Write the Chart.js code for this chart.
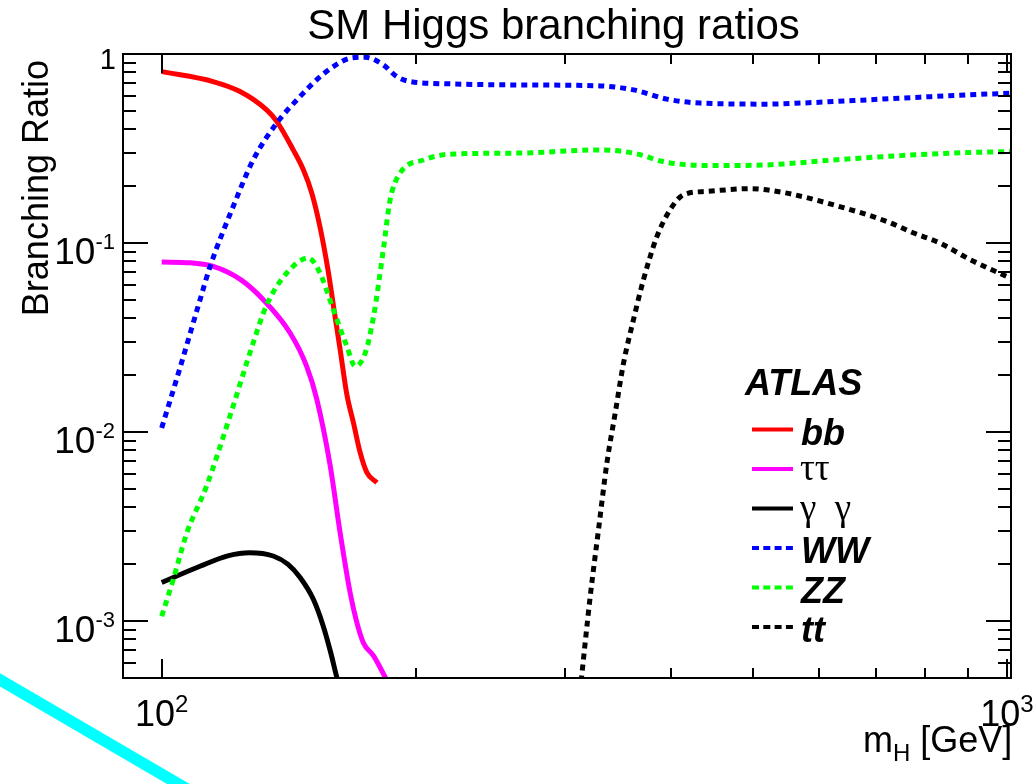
<!DOCTYPE html>
<html>
<head>
<meta charset="utf-8">
<title>SM Higgs branching ratios</title>
<script src="https://cdn.jsdelivr.net/npm/chart.js@4.4.1/dist/chart.umd.min.js"></script>
<style>
  html, body { margin: 0; padding: 0; background: #ffffff; }
  #wrap { position: relative; width: 1033px; height: 784px; overflow: hidden; }
  canvas { display: block; }
</style>
</head>
<body>
<div id="wrap"><canvas id="chart" width="1033" height="784"></canvas></div>
<script>
// Higgs mass points (GeV) and branching ratios, one pair of arrays per decay channel
const bbMass   = [100, 115, 123.8, 133.1, 136.8, 143.1, 147.1, 150.5, 153.9, 157.3, 159.9, 162.6, 165.6, 168.6, 171.7, 174.9, 179.7];
const bbRatio  = [0.807, 0.715, 0.633, 0.506, 0.44, 0.311, 0.244, 0.184, 0.122, 0.0722, 0.0445, 0.0273, 0.0158, 0.0112, 0.0078, 0.0061, 0.0054];

const tautauMass  = [100, 108, 115.1, 124, 131.9, 141.9, 148.4, 152.6, 158.3, 162.6, 167.1, 170, 173.2, 178.1, 184, 187];
const tautauRatio = [0.0793, 0.0786, 0.0752, 0.064, 0.0501, 0.0334, 0.0223, 0.0149, 0.00659, 0.00293, 0.00141, 0.00100, 0.000769, 0.000654, 0.0005, 0.00043];

const gamgamMass  = [100, 111, 120, 127, 135.5, 141, 145.8, 151.2, 155.3, 158.5, 161.2, 163];
const gamgamRatio = [0.00160, 0.00195, 0.00222, 0.00230, 0.00221, 0.00200, 0.00170, 0.00130, 0.00094, 0.00068, 0.0005, 0.00042];

const wwMass  = [100, 105, 111, 114.1, 121.5, 128.3, 136.8, 145.8, 152.5, 159.6, 167.1, 174, 182.9, 189.7, 196.7, 219.4, 263, 330, 361.5, 396, 433.6, 520, 570, 683, 819, 897, 1011];
const wwRatio = [0.0105, 0.0215, 0.050, 0.0752, 0.156, 0.275, 0.431, 0.596, 0.73, 0.858, 0.95, 0.962, 0.876, 0.76, 0.715, 0.695, 0.686, 0.678, 0.646, 0.577, 0.55, 0.543, 0.55, 0.572, 0.596, 0.608, 0.62];

const zzMass  = [100, 103.2, 107.1, 113, 120.4, 128.3, 133.1, 140.6, 149.1, 153.9, 159.6, 165.6, 169.4, 174.1, 178.1, 182.9, 186.3, 191.4, 204, 219.4, 263, 330, 361.5, 396, 454, 520, 624, 748, 897, 1011];
const zzRatio = [0.00106, 0.00166, 0.00293, 0.00517, 0.0121, 0.0296, 0.047, 0.0694, 0.0833, 0.0694, 0.0444, 0.0284, 0.0223, 0.0262, 0.0409, 0.0922, 0.169, 0.234, 0.275, 0.295, 0.299, 0.311, 0.299, 0.267, 0.257, 0.259, 0.275, 0.290, 0.301, 0.305];

const ttMass  = [312.5, 321.4, 328.7, 336.3, 344, 351.9, 361.5, 371.5, 385.3, 399.5, 414.3, 441.6, 497, 544, 624, 721, 775.5, 834, 905, 1011];
const ttRatio = [0.00042, 0.00136, 0.00305, 0.00688, 0.01263, 0.0232, 0.0393, 0.064, 0.108, 0.150, 0.18, 0.1875, 0.194, 0.185, 0.159, 0.130, 0.113, 0.0997, 0.0816, 0.065];

// Axis ticks and labels
const xMajorTicks = [100, 1000];
const xMinorTicks = [200, 300, 400, 500, 600, 700, 800, 900];
const xTickLabels = [[100, '10', '2'], [1000, '10', '3']];
const yMajorTicks = [0.001, 0.01, 0.1, 1];
const yMinorTicks = [0.0006, 0.0007, 0.0008, 0.0009,
                     0.002, 0.003, 0.004, 0.005, 0.006, 0.007, 0.008, 0.009,
                     0.02, 0.03, 0.04, 0.05, 0.06, 0.07, 0.08, 0.09,
                     0.2, 0.3, 0.4, 0.5, 0.6, 0.7, 0.8, 0.9];
const yTickLabels = [[0.001, '10', '-3'], [0.01, '10', '-2'], [0.1, '10', '-1'], [1, '1', '']];

// Legend entries: label, font kind, colour, dashed
const legendLabels = ['bb', '\u03C4\u03C4', '\u03B3 \u03B3', 'WW', 'ZZ', 'tt'];
const legendSerif  = [false, true, true, false, false, false];
const legendColors = ['#ff0000', '#ff00ff', '#000000', '#0000ff', '#00ff00', '#000000'];
const legendDashed = [false, false, false, true, true, true];

const SANS = '"Liberation Sans", Arial, Helvetica, sans-serif';
const SERIF = '"Liberation Serif", "Times New Roman", serif';

function toPoints(xs, ys) {
  return xs.map((m, i) => ({ x: m, y: ys[i] }));
}

function series(label, xs, ys, color, dashed) {
  return {
    label: label,
    data: toPoints(xs, ys),
    borderColor: color,
    backgroundColor: color,
    borderWidth: 5,
    borderDash: dashed ? [6, 5] : [],
    borderCapStyle: 'butt',
    pointRadius: 0,
    fill: false,
    cubicInterpolationMode: 'monotone',
    clip: 0
  };
}

function drawPower(ctx, base, exp, x, baseY, supY, baseFont, supFont, align) {
  ctx.font = baseFont;
  const wb = ctx.measureText(base).width;
  ctx.font = supFont;
  const we = exp ? ctx.measureText(exp).width : 0;
  const total = wb + we;
  let left = x;
  if (align === 'center') left = x - total / 2;
  else if (align === 'right') left = x - total;
  ctx.textAlign = 'left';
  ctx.textBaseline = 'alphabetic';
  ctx.font = baseFont;
  ctx.fillText(base, left, baseY);
  if (exp) {
    ctx.font = supFont;
    ctx.fillText(exp, left + wb, supY);
  }
}

// Frame, inward ticks on all four sides, tick labels, titles and the legend box
const frameAxes = {
  id: 'frameAxes',
  beforeDraw(chart) {
    const ctx = chart.ctx;
    ctx.save();
    ctx.fillStyle = '#ffffff';
    ctx.fillRect(0, 0, chart.width, chart.height);
    ctx.restore();
  },
  afterDraw(chart) {
    const { ctx, chartArea: a } = chart;
    const xs = chart.scales.x, ys = chart.scales.y;
    ctx.save();
    ctx.strokeStyle = '#000000';
    ctx.fillStyle = '#000000';
    ctx.lineWidth = 2;
    ctx.setLineDash([]);
    ctx.lineCap = 'butt';
    ctx.strokeRect(a.left, a.top, a.right - a.left, a.bottom - a.top);

    ctx.beginPath();
    const xTick = (v, len) => {
      const px = Math.round(xs.getPixelForValue(v));
      ctx.moveTo(px, a.bottom); ctx.lineTo(px, a.bottom - len);
      ctx.moveTo(px, a.top); ctx.lineTo(px, a.top + len);
    };
    xMajorTicks.forEach(v => xTick(v, 19));
    xMinorTicks.forEach(v => xTick(v, 10));
    const yTick = (v, len) => {
      const py = Math.round(ys.getPixelForValue(v));
      ctx.moveTo(a.left, py); ctx.lineTo(a.left + len, py);
      ctx.moveTo(a.right, py); ctx.lineTo(a.right - len, py);
    };
    yMajorTicks.forEach(v => yTick(v, 25));
    yMinorTicks.forEach(v => yTick(v, 13));
    ctx.stroke();

    // tick labels
    xTickLabels.forEach(([v, b, e]) => {
      const px = xs.getPixelForValue(v);
      drawPower(ctx, b, e, px, a.bottom + 48, a.bottom + 34, '36px ' + SANS, '24px ' + SANS, 'center');
    });
    yTickLabels.forEach(([v, b, e]) => {
      const py = ys.getPixelForValue(v);
      if (e) {
        drawPower(ctx, b, e, 115, py + 21, py + 6, '37px ' + SANS, '22px ' + SANS, 'right');
      } else {
        drawPower(ctx, b, e, 116, py + 15, py, '29px ' + SANS, '20px ' + SANS, 'right');
      }
    });

    // title
    ctx.font = '42px ' + SANS;
    ctx.textAlign = 'center';
    ctx.textBaseline = 'alphabetic';
    ctx.fillText('SM Higgs branching ratios', 553.5, 39);

    // y axis title
    ctx.save();
    ctx.translate(48, 60);
    ctx.rotate(-Math.PI / 2);
    ctx.font = '36px ' + SANS;
    ctx.textAlign = 'right';
    ctx.fillText('Branching Ratio', 0, 0);
    ctx.restore();

    // x axis title  m_H [GeV]
    ctx.textAlign = 'left';
    let tx = 863;
    const tBase = 751.5;
    ctx.font = '36px ' + SANS;
    ctx.fillText('m', tx, tBase);
    tx += ctx.measureText('m').width;
    ctx.font = '24px ' + SANS;
    ctx.fillText('H', tx, tBase + 9);
    tx += ctx.measureText('H').width;
    ctx.font = '36px ' + SANS;
    ctx.fillText(' [GeV]', tx, tBase);

    // legend
    ctx.font = 'italic bold 36px ' + SANS;
    ctx.fillText('ATLAS', 745, 395);
    legendLabels.forEach((lab, i) => {
      const ly = 429.5 + i * 39.5;
      ctx.beginPath();
      ctx.strokeStyle = legendColors[i];
      ctx.lineWidth = 4;
      ctx.setLineDash(legendDashed[i] ? [7, 4.3] : []);
      ctx.moveTo(752, ly); ctx.lineTo(793, ly);
      ctx.stroke();
      ctx.setLineDash([]);
      ctx.fillStyle = '#000000';
      if (legendSerif[i]) {
        ctx.font = '37px ' + SERIF;
        ctx.fillText(lab.replace(' ', '\u2002'), 800, ly + 11);
      } else {
        ctx.font = 'italic bold 36px ' + SANS;
        ctx.fillText(lab, 801, ly + 15);
      }
    });

    // cyan guide stroke in the lower left corner
    ctx.beginPath();
    ctx.strokeStyle = '#00ffff';
    ctx.lineWidth = 11.5;
    ctx.moveTo(-10, 674);
    ctx.lineTo(200, 796.6);
    ctx.stroke();
    ctx.restore();
  }
};

const ctx = document.getElementById('chart').getContext('2d');
new Chart(ctx, {
  type: 'line',
  data: {
    datasets: [
      series('tt', ttMass, ttRatio, '#000000', true),
      series('ZZ', zzMass, zzRatio, '#00ff00', true),
      series('WW', wwMass, wwRatio, '#0000ff', true),
      series('\u03B3 \u03B3', gamgamMass, gamgamRatio, '#000000', false),
      series('\u03C4\u03C4', tautauMass, tautauRatio, '#ff00ff', false),
      series('bb', bbMass, bbRatio, '#ff0000', false)
    ]
  },
  options: {
    responsive: false,
    animation: false,
    devicePixelRatio: 1,
    events: [],
    layout: { padding: { left: 123, right: 22, top: 54, bottom: 106 } },
    plugins: {
      legend: { display: false },
      tooltip: { enabled: false },
      title: { display: false }
    },
    scales: {
      x: { type: 'logarithmic', min: 90, max: 1011, display: false },
      y: { type: 'logarithmic', min: 0.0005, max: 1, display: false }
    }
  },
  plugins: [frameAxes]
});
</script>
</body>
</html>
